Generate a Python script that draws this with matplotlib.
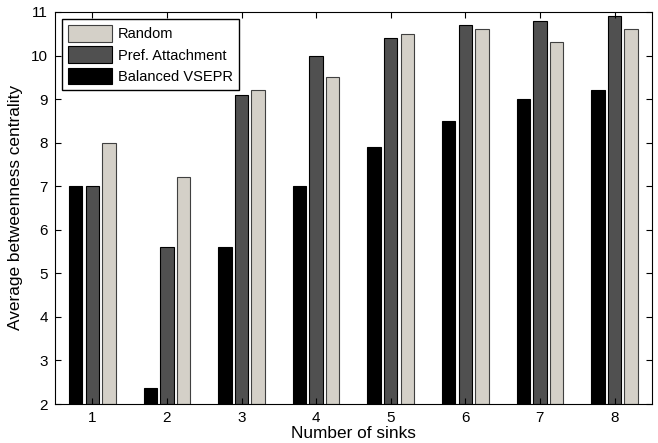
import matplotlib
matplotlib.use("Agg")
import matplotlib.pyplot as plt
import numpy as np

plt.rcParams['font.family'] = ['Liberation Sans', 'DejaVu Sans']

sinks = [1, 2, 3, 4, 5, 6, 7, 8]
balanced = [7.0, 2.37, 5.6, 7.0, 7.9, 8.5, 9.0, 9.2]
pref = [7.0, 5.6, 9.1, 10.0, 10.4, 10.7, 10.8, 10.9]
random_ = [8.0, 7.2, 9.2, 9.5, 10.5, 10.6, 10.3, 10.6]

fig = plt.figure(figsize=(6.58, 4.43), dpi=100)
ax = fig.add_axes([0.0836, 0.088, 0.907, 0.885])

x = np.array(sinks, dtype=float)
off = 0.222
w = 0.18
b1 = ax.bar(x - off, np.array(balanced) - 2, w, bottom=2, color='black', edgecolor='black', linewidth=0.8, label='Balanced VSEPR')
b2 = ax.bar(x, np.array(pref) - 2, w, bottom=2, color='#505050', edgecolor='black', linewidth=0.8, label='Pref. Attachment')
b3 = ax.bar(x + off, np.array(random_) - 2, w, bottom=2, color='#d4d0c8', edgecolor='#404040', linewidth=0.8, label='Random')

ax.set_xlim(0.5, 8.5)
ax.set_ylim(2, 11)
ax.set_xticks(sinks)
ax.set_yticks(range(2, 12))
ax.tick_params(direction='in', top=True, right=True, labelsize=11, length=4, pad=5)
ax.set_xlabel('Number of sinks', fontsize=12.4, labelpad=1)
ax.set_ylabel('Average betweenness centrality', fontsize=12.4, labelpad=6)

leg = ax.legend([b3, b2, b1], ['Random', 'Pref. Attachment', 'Balanced VSEPR'],
                loc='upper left', fontsize=10.5, fancybox=False, framealpha=1,
                edgecolor='black', handlelength=3.0, handleheight=1.4,
                borderaxespad=0.5, labelspacing=0.3, handletextpad=0.4)
leg.get_frame().set_linewidth(1.0)

fig.savefig('out.png', dpi=100)
